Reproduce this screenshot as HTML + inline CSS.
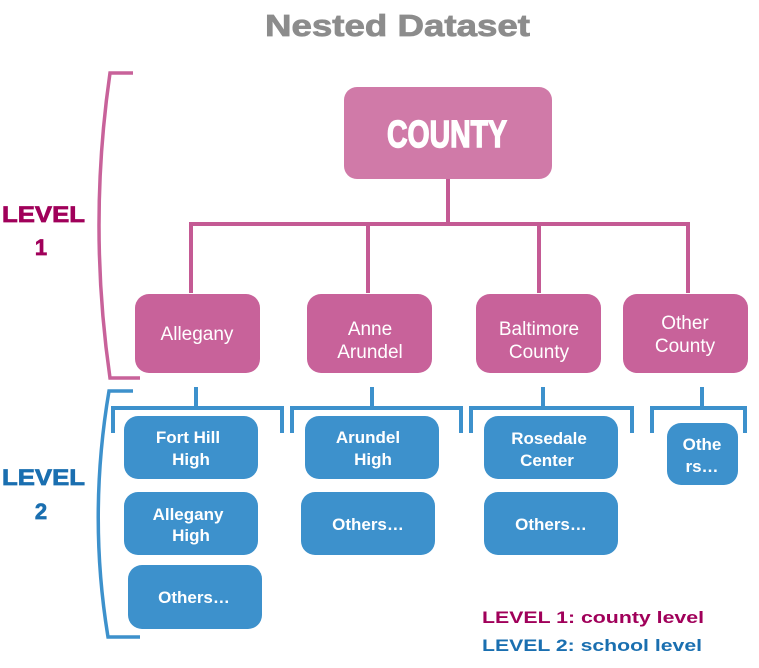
<!DOCTYPE html>
<html><head><meta charset="utf-8"><style>
html,body{margin:0;padding:0;background:#fff;}
svg{display:block;}
text{font-family:"Liberation Sans",sans-serif;}
.b{font-weight:bold;}
.n{font-weight:normal;}
</style></head><body>
<svg width="759" height="668" viewBox="0 0 759 668" xmlns="http://www.w3.org/2000/svg">
<text class="b" x="265" y="36" font-size="31" fill="#8c8c8c" stroke="#8c8c8c" stroke-width="0.8" textLength="265" lengthAdjust="spacingAndGlyphs">Nested Dataset</text>

<path d="M133 73 L110 73 Q88 225 110 378 L140 378" fill="none" stroke="#c8629a" stroke-width="3.5"/>
<path d="M133 391 L109 391 Q88 515 108 637 L140 637" fill="none" stroke="#3d91cc" stroke-width="3.5"/>

<g class="b" font-size="22" stroke-width="0.7">
<text class="b" x="2" y="222" fill="#a0005a" stroke="#a0005a" textLength="83" lengthAdjust="spacingAndGlyphs">LEVEL</text>
<text class="b" x="41" y="255" text-anchor="middle" fill="#a0005a" stroke="#a0005a">1</text>
<text class="b" x="2" y="485" fill="#1a6fb0" stroke="#1a6fb0" textLength="83" lengthAdjust="spacingAndGlyphs">LEVEL</text>
<text class="b" x="41" y="519" text-anchor="middle" fill="#1a6fb0" stroke="#1a6fb0">2</text>
</g>

<g stroke="#c45a94" stroke-width="4" fill="none">
<path d="M448 179 V224"/>
<path d="M191 293 V224 H688 V293"/>
<path d="M368 224 V293"/>
<path d="M539 224 V293"/>
</g>

<rect x="344" y="87" width="208" height="92" rx="13" fill="#d07aa8"/>
<text class="b" x="387" y="147" font-size="38" fill="#fff" stroke="#fff" stroke-width="1.5" textLength="120" lengthAdjust="spacingAndGlyphs">COUNTY</text>

<g fill="#c8629a">
<rect x="135" y="294" width="125" height="79" rx="14"/>
<rect x="307" y="294" width="125" height="79" rx="14"/>
<rect x="476" y="294" width="125" height="79" rx="14"/>
<rect x="623" y="294" width="125" height="79" rx="14"/>
</g>
<g fill="#fff" font-size="19" text-anchor="middle">
<text class="n" x="197" y="340">Allegany</text>
<text class="n" x="370" y="335">Anne</text>
<text class="n" x="370" y="358">Arundel</text>
<text class="n" x="539" y="335">Baltimore</text>
<text class="n" x="539" y="358">County</text>
<text class="n" x="685" y="329">Other</text>
<text class="n" x="685" y="352">County</text>
</g>

<g stroke="#3d91cc" stroke-width="4" fill="none">
<path d="M196 387 V408"/><path d="M113 433 V408 H282 V433"/>
<path d="M372 387 V408"/><path d="M292 433 V408 H461 V433"/>
<path d="M543 387 V408"/><path d="M471 433 V408 H632 V433"/>
<path d="M702 387 V408"/><path d="M652 433 V408 H745 V433"/>
</g>

<g fill="#3d91cc">
<rect x="124" y="416" width="134" height="63" rx="14"/>
<rect x="124" y="492" width="134" height="63" rx="14"/>
<rect x="128" y="565" width="134" height="64" rx="14"/>
<rect x="305" y="416" width="134" height="63" rx="14"/>
<rect x="301" y="492" width="134" height="63" rx="14"/>
<rect x="484" y="416" width="134" height="63" rx="14"/>
<rect x="484" y="492" width="134" height="63" rx="14"/>
<rect x="667" y="423" width="71" height="62" rx="14"/>
</g>
<g fill="#fff" font-size="17" text-anchor="middle">
<text class="b" x="188" y="443">Fort Hill</text>
<text class="b" x="191" y="465">High</text>
<text class="b" x="188" y="520">Allegany</text>
<text class="b" x="191" y="541">High</text>
<text class="b" x="194" y="603">Others…</text>
<text class="b" x="368" y="443">Arundel</text>
<text class="b" x="373" y="465">High</text>
<text class="b" x="368" y="530">Others…</text>
<text class="b" x="549" y="444">Rosedale</text>
<text class="b" x="547" y="466">Center</text>
<text class="b" x="551" y="530">Others…</text>
<text class="b" x="702" y="450">Othe</text>
<text class="b" x="702" y="472">rs…</text>
</g>

<text class="b" x="482" y="623" font-size="17" fill="#a0005a" textLength="222" lengthAdjust="spacingAndGlyphs">LEVEL 1: county level</text>
<text class="b" x="482" y="651" font-size="17" fill="#1a6fb0" textLength="220" lengthAdjust="spacingAndGlyphs">LEVEL 2: school level</text>
</svg>
</body></html>
